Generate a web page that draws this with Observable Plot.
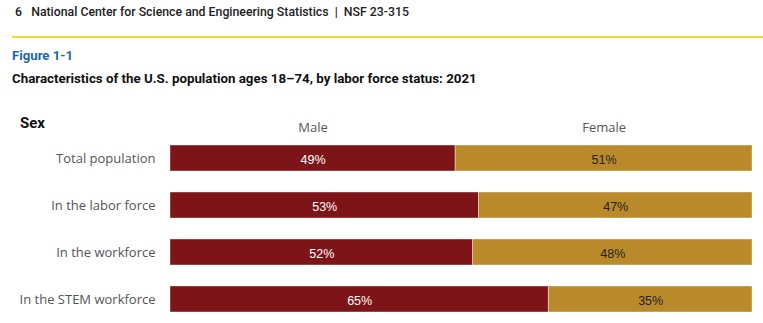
<!DOCTYPE html>
<html><head><meta charset="utf-8">
<script src="https://cdn.jsdelivr.net/npm/d3@7"></script>
<script src="https://cdn.jsdelivr.net/npm/@observablehq/plot@0.6"></script>
<style>
body{margin:0;width:763px;height:323px;position:relative;background:#fff;font-family:Roboto,sans-serif;overflow:hidden}
.abs{position:absolute;white-space:nowrap}
#page{left:15px;top:5px;font-size:12.3px;font-weight:500;color:#222}
#rule{left:12px;top:36px;width:751px;height:2px;background:#FCD730}
#fig{left:12px;top:48px;font-size:13.2px;font-weight:700;color:#1A68AE}
#title{left:12px;top:71px;font-size:13.3px;font-weight:700;color:#111}
#sex{left:20px;top:114px;font-size:15px;font-weight:700;color:#111}
#chart{left:0;top:100px}
</style></head><body>
<div class="abs" id="page">6&nbsp;&nbsp;&nbsp;National Center for Science and Engineering Statistics&nbsp;&nbsp;|&nbsp;&nbsp;NSF 23-315</div>
<div class="abs" id="rule"></div>
<div class="abs" id="fig">Figure 1-1</div>
<div class="abs" id="title">Characteristics of the U.S. population ages 18–74, by labor force status: 2021</div>
<div class="abs" id="sex">Sex</div>
<div class="abs" id="chart"></div>
<script>
const categories = ["Total population", "In the labor force", "In the workforce", "In the STEM workforce"];
const sexes = ["Male", "Female"];
const male = [49, 53, 52, 65];
const female = [51, 47, 48, 35];
const colors = ["#7D1418", "#BA8A2A"];

const rows = [];
categories.forEach((c, i) => {
  rows.push({cat: c, sex: "Male", value: male[i]});
  rows.push({cat: c, sex: "Female", value: female[i]});
});
const headers = rows.filter(d => d.cat === categories[0]);

const plot = Plot.plot({
  width: 763,
  height: 223,
  marginLeft: 170,
  marginRight: 11,
  marginTop: 39,
  marginBottom: 4,
  style: {fontFamily: "'Open Sans', sans-serif", background: "transparent"},
  x: {domain: [0, 100], axis: null},
  y: {domain: categories, paddingInner: 0.4375, paddingOuter: 0.1, label: null},
  color: {domain: sexes, range: colors},
  marks: [
    Plot.barX(rows, Plot.stackX({x: "value", y: "cat", z: "sex", fill: "sex", order: sexes, stroke: "#fff", strokeOpacity: 0.5, strokeWidth: 0.8})),
    Plot.text(rows, Plot.stackX({x: "value", y: "cat", z: "sex", order: sexes, text: d => d.value + "%",
      fill: d => d.sex === "Male" ? "#fff" : "#222", fontSize: 12.5, fontFamily: "'Liberation Sans', Arial, sans-serif", dy: 1})),
    Plot.text(headers, Plot.stackX({x: "value", y: "cat", z: "sex", order: sexes, text: "sex", dy: -31,
      fill: "#555", fontSize: 13})),
    Plot.axisY({tickSize: 0, tickPadding: 15, fontSize: 13, fill: "#555", label: null})
  ]
});
document.getElementById("chart").appendChild(plot);
</script>
</body></html>
